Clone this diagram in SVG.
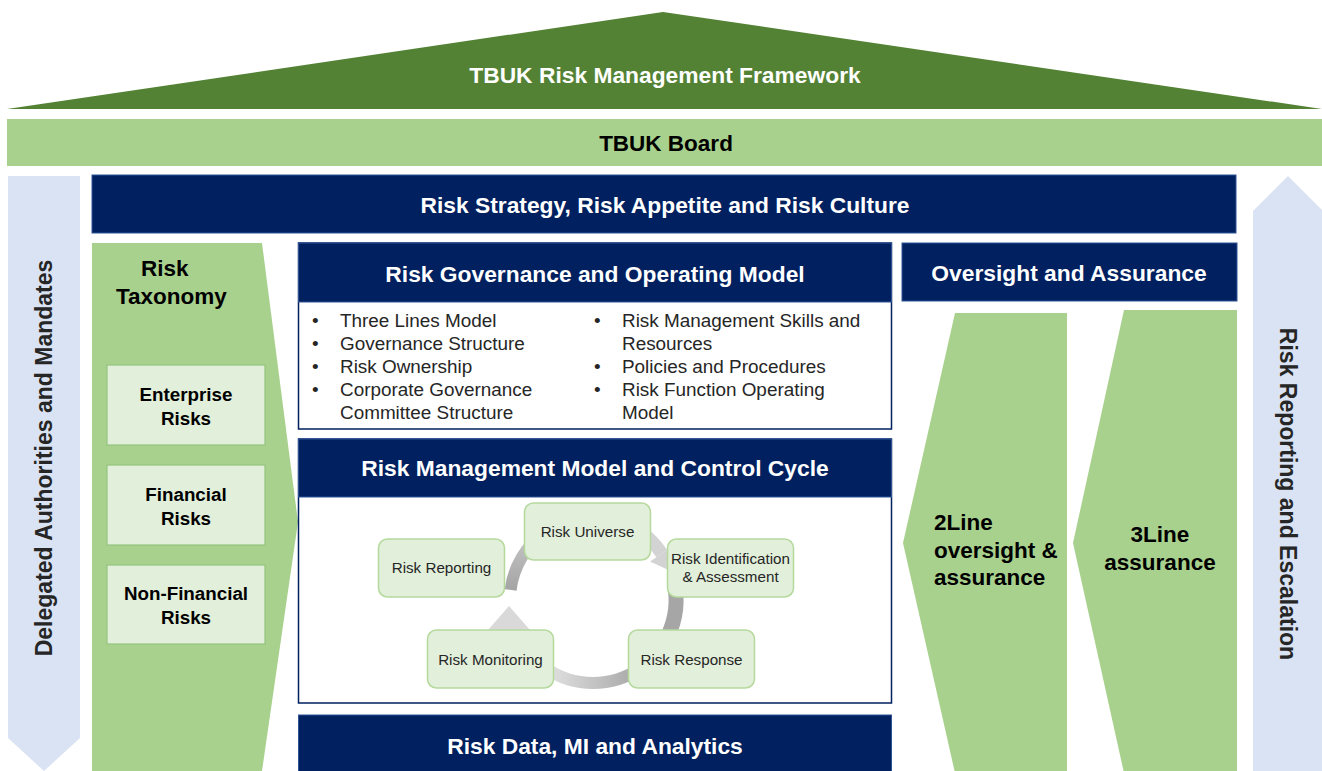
<svg xmlns="http://www.w3.org/2000/svg" width="1322" height="771" viewBox="0 0 1322 771">
<style>
  .navy { fill: #002060; stroke: #2f5597; stroke-width: 1; }
  .body { fill: #ffffff; stroke: #002060; stroke-width: 1.5; }
  .lg { fill: #a9d18e; }
  .lb { fill: #dae3f3; }
  .tbox { fill: #e2efda; stroke: #93c47d; stroke-width: 1.2; }
  .cbox { fill: #e2efda; stroke: #b5d99c; stroke-width: 1.5; }
  .hw { font-family: "Liberation Sans", Arial, sans-serif; font-weight: bold; font-size: 22.8px; fill: #ffffff; text-anchor: middle; dominant-baseline: central; }
  .hb { font-family: "Liberation Sans", Arial, sans-serif; font-weight: bold; font-size: 22.5px; fill: #000000; }
  .bt { font-family: "Liberation Sans", Arial, sans-serif; font-weight: bold; font-size: 18.8px; fill: #000000; text-anchor: middle; }
  .bl { font-family: "Liberation Sans", Arial, sans-serif; font-size: 18.9px; fill: #262626; }
  .ct { font-family: "Liberation Sans", Arial, sans-serif; font-size: 15.2px; fill: #262626; text-anchor: middle; }
  .vt { font-family: "Liberation Sans", Arial, sans-serif; font-weight: bold; font-size: 23px; fill: #262626; text-anchor: middle; dominant-baseline: central; }
</style>
<defs>
  <linearGradient id="gLeft" gradientUnits="userSpaceOnUse" x1="0" y1="592" x2="0" y2="530">
    <stop offset="0" stop-color="#a3a3a3"/>
    <stop offset="1" stop-color="#c8c8c8"/>
  </linearGradient>
  <linearGradient id="gBottom" gradientUnits="userSpaceOnUse" x1="640" y1="0" x2="545" y2="0">
    <stop offset="0" stop-color="#a6a6a6"/>
    <stop offset="1" stop-color="#e3e3e3"/>
  </linearGradient>
</defs>

<g id="roof">
  <polygon points="7,109 663,12 1322,109" fill="#548235"/>
  <text class="hw" x="665" y="75">TBUK Risk Management Framework</text>
</g>

<g id="board">
  <rect class="lg" x="7" y="119" width="1315" height="47"/>
  <text class="hb" x="666" y="143" text-anchor="middle" dominant-baseline="central">TBUK Board</text>
</g>

<g id="delegated">
  <polygon class="lb" points="8,176 80,176 80,738 44,771 8,738"/>
  <text class="vt" x="44" y="458" transform="rotate(-90 44 458)">Delegated Authorities and Mandates</text>
</g>

<g id="reporting-escalation">
  <polygon class="lb" points="1253,211 1288,176 1323,211 1323,771 1253,771"/>
  <text class="vt" x="1288" y="494" transform="rotate(90 1288 494)">Risk Reporting and Escalation</text>
</g>

<g id="strategy">
  <rect class="navy" x="92" y="175" width="1144" height="58"/>
  <text class="hw" x="665" y="205">Risk Strategy, Risk Appetite and Risk Culture</text>
</g>

<g id="taxonomy">
  <polygon class="lg" points="92,243 262,243 298,522 262,771 92,771"/>
  <text class="hb" x="141" y="276">Risk</text>
  <text class="hb" x="116" y="304">Taxonomy</text>
</g>
<g id="enterprise-risks">
  <rect class="tbox" x="107" y="365" width="158" height="80"/>
  <text class="bt" x="186" y="401">Enterprise</text>
  <text class="bt" x="186" y="425">Risks</text>
</g>
<g id="financial-risks">
  <rect class="tbox" x="107" y="465" width="158" height="80"/>
  <text class="bt" x="186" y="501">Financial</text>
  <text class="bt" x="186" y="525">Risks</text>
</g>
<g id="non-financial-risks">
  <rect class="tbox" x="107" y="565" width="158" height="79"/>
  <text class="bt" x="186" y="600">Non-Financial</text>
  <text class="bt" x="186" y="624">Risks</text>
</g>

<g id="governance">
  <rect class="body" x="298.5" y="243" width="593" height="186"/>
  <rect class="navy" x="298.5" y="243" width="593" height="59"/>
  <text class="hw" x="595" y="274">Risk Governance and Operating Model</text>
  <g class="bl">
    <text x="312" y="327">•</text><text x="340" y="327">Three Lines Model</text>
    <text x="312" y="350">•</text><text x="340" y="350">Governance Structure</text>
    <text x="312" y="373">•</text><text x="340" y="373">Risk Ownership</text>
    <text x="312" y="396">•</text><text x="340" y="396">Corporate Governance</text>
    <text x="340" y="419">Committee Structure</text>
    <text x="594" y="327">•</text><text x="622" y="327">Risk Management Skills and</text>
    <text x="622" y="350">Resources</text>
    <text x="594" y="373">•</text><text x="622" y="373">Policies and Procedures</text>
    <text x="594" y="396">•</text><text x="622" y="396">Risk Function Operating</text>
    <text x="622" y="419">Model</text>
  </g>
</g>

<g id="control-cycle">
  <rect class="body" x="298.5" y="439" width="593" height="264"/>
  <rect class="navy" x="298.5" y="439" width="593" height="58"/>
  <text class="hw" x="595" y="468">Risk Management Model and Control Cycle</text>
</g>

<g id="connectors" fill="none">
  <path d="M510.6,589.9 A83,83 0 0 1 545.4,532" stroke="url(#gLeft)" stroke-width="12"/>
  <path d="M614.5,519.8 A83,83 0 0 1 661.8,553.6" stroke="#d3d3d3" stroke-width="13"/>
  <polygon points="673.5,545.8 650,561.6 675,573" fill="#d3d3d3"/>
  <path d="M674.2,582.7 A83,83 0 0 1 668.2,635.1" stroke="#a6a6a6" stroke-width="15"/>
  <path d="M640.6,668 A83,83 0 0 1 545.4,668" stroke="url(#gBottom)" stroke-width="12"/>
  <path d="M521.1,641.5 A83,83 0 0 1 512.8,621.5" stroke="#d9d9d9" stroke-width="12"/>
  <polygon points="488,630 530,630 509,606" fill="#d9d9d9"/>
</g>

<g id="risk-universe">
  <rect class="cbox" x="524.5" y="503" width="126" height="57" rx="9"/>
  <text class="ct" x="587.5" y="537">Risk Universe</text>
</g>
<g id="risk-reporting">
  <rect class="cbox" x="378.5" y="539" width="126" height="58" rx="9"/>
  <text class="ct" x="441.5" y="573">Risk Reporting</text>
</g>
<g id="risk-identification">
  <rect class="cbox" x="667.5" y="539" width="126" height="58" rx="9"/>
  <text class="ct" x="730.5" y="564">Risk Identification</text>
  <text class="ct" x="730.5" y="582">&amp; Assessment</text>
</g>
<g id="risk-monitoring">
  <rect class="cbox" x="427.5" y="630" width="126" height="58" rx="9"/>
  <text class="ct" x="490.5" y="665">Risk Monitoring</text>
</g>
<g id="risk-response">
  <rect class="cbox" x="628.5" y="630" width="126" height="58" rx="9"/>
  <text class="ct" x="691.5" y="665">Risk Response</text>
</g>

<g id="risk-data">
  <rect class="navy" x="298.5" y="715" width="593" height="60"/>
  <text class="hw" x="595" y="746">Risk Data, MI and Analytics</text>
</g>

<g id="oversight">
  <rect class="navy" x="902" y="243" width="335" height="58"/>
  <text class="hw" x="1069" y="273">Oversight and Assurance</text>
</g>
<g id="line2">
  <polygon class="lg" points="955,313 1067,313 1067,773 955,773 903,543"/>
  <text class="hb" x="934" y="530">2Line</text>
  <text class="hb" x="934" y="558">oversight &amp;</text>
  <text class="hb" x="934" y="585">assurance</text>
</g>
<g id="line3">
  <polygon class="lg" points="1124,310 1237,310 1237,773 1124,773 1073,543"/>
  <text class="hb" x="1160" y="542" text-anchor="middle">3Line</text>
  <text class="hb" x="1160" y="570" text-anchor="middle">assurance</text>
</g>
</svg>
